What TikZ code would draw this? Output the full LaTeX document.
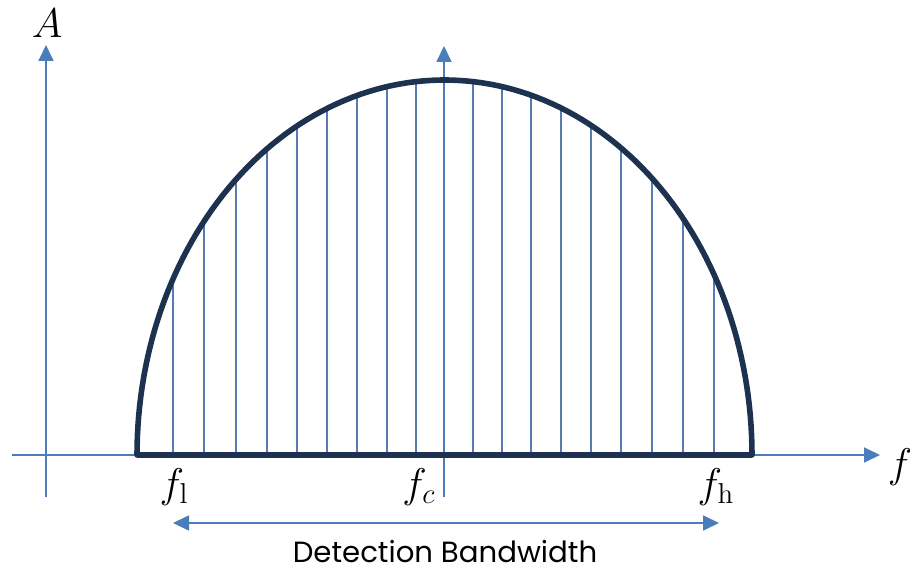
\documentclass[tikz,border=0pt]{standalone}
\usepackage{fontspec}
\setsansfont{Poppins}
\usepackage{tikz}
\usetikzlibrary{arrows.meta}
\definecolor{axisblue}{RGB}{74,126,187}
\definecolor{hatchblue}{RGB}{88,124,176}
\definecolor{curvenavy}{RGB}{28,50,78}
\tikzset{
  axis/.style={-{Triangle[length=8pt,width=7.5pt]},line width=0.9pt,axisblue},
  band/.style={{Triangle[length=8pt,width=7.5pt]}-{Triangle[length=8pt,width=7.5pt]},line width=0.9pt,axisblue},
  hatch/.style={line width=0.8pt,hatchblue},
  curve/.style={line width=2.8pt,curvenavy,line join=round},
  lbl/.style={inner sep=0pt,font=\huge},
}

\begin{document}
\begin{tikzpicture}[x=0.5pt,y=-0.5pt]
\useasboundingbox (0,0) rectangle (910,571);
% axes
\coordinate (xs) at (12,455); \coordinate (xe) at (880,455);
\coordinate (ys) at (46,497); \coordinate (ye) at (46,45);
\coordinate (cs) at (444,497); \coordinate (ce) at (444,46);
\draw[axis] (xs)--(xe);
\draw[axis] (ys)--(ye);
% spectral lines under the lobe
\begin{scope}
\clip plot[domain=180:0,samples=120] ({444.5+307.5*cos(\x)},{455-375*sin(\x)}) -- cycle;
\foreach \x in {173,204,236,267,297,327,357,387,416,473,502,531,561,591,621,652,683,714}
  \draw[hatch] (\x,455)--(\x,60);
\end{scope}
\draw[axis] (cs)--(ce);
\draw[curve] plot[domain=180:0,samples=120] ({444.5+307.5*cos(\x)},{455-375*sin(\x)}) -- cycle;
% labels
\node[lbl] (A) at (47,23) {$A$};
\node[lbl] (f) at (900,467) {$f$};
\node[lbl] (fl) at (174,487) {$f_{\mathrm{l}}$};
\node[lbl] (fc) at (419,487) {$f_c$};
\node[lbl] (fh) at (716,487) {$f_{\mathrm{h}}$};
\coordinate (bl) at (173,523); \coordinate (br) at (719,523);
\draw[band] (bl)--(br);
\node[inner sep=0pt,font=\sffamily\fontsize{14.6}{17}\selectfont] (bw) at (445,552) {Detection Bandwidth};
\end{tikzpicture}
\end{document}
